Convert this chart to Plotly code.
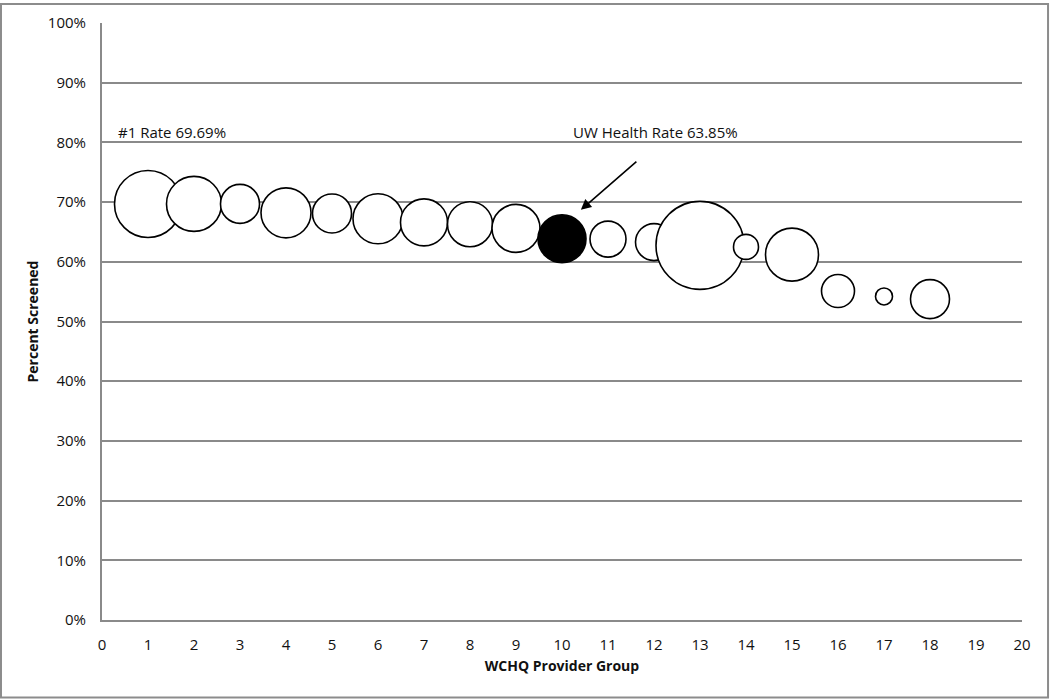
import plotly.graph_objects as go

# Provider groups, screening rate (%) and bubble size (px diameter)
groups = list(range(1, 19))
rates = [69.69, 69.7, 69.7, 68.2, 68.1, 67.2, 66.6, 66.3, 65.6, 63.85,
         63.8, 63.3, 62.75, 62.5, 61.2, 55.1, 54.2, 53.75]
sizes = [67, 55, 39, 50, 39, 50, 47, 45, 48, 48,
         36, 37, 88, 25, 53, 33, 17, 39]
highlight = 10  # UW Health

x_ticks = list(range(0, 21))
y_ticks = list(range(0, 101, 10))
y_labels = [f"{v}%" for v in y_ticks]

FONT = "Open Sans"
GRID = "#8a8a8a"

fills = ["black" if g == highlight else "white" for g in groups]

fig = go.Figure()
fig.add_trace(go.Scatter(
    x=groups,
    y=rates,
    mode="markers",
    marker=dict(
        size=sizes,
        sizemode="diameter",
        color=fills,
        opacity=1,
        line=dict(color="black", width=1.6),
    ),
    showlegend=False,
    hoverinfo="x+y",
))

# annotations
fig.add_annotation(x=0.3, y=81.8, text="#1 Rate 69.69%", showarrow=False,
                   xanchor="left", yanchor="middle",
                   font=dict(family=FONT, size=15, color="#111"))
fig.add_annotation(x=10.2, y=81.8, text="UW Health Rate 63.85%", showarrow=False,
                   xanchor="left", yanchor="middle",
                   font=dict(family=FONT, size=15, color="#111"))
fig.add_annotation(x=10.41, y=68.7, ax=11.65, ay=77.0, xref="x", yref="y",
                   axref="x", ayref="y", text="", showarrow=True,
                   arrowhead=2, arrowsize=1.3, arrowwidth=1.6, arrowcolor="black")

# outer border of the chart
fig.add_shape(type="rect", xref="paper", yref="paper",
              x0=-0.1098, x1=1.0283, y0=-0.13, y1=1.0317,
              line=dict(color="#8c8c8c", width=2), fillcolor="rgba(0,0,0,0)")

fig.update_layout(
    width=1050,
    height=700,
    paper_bgcolor="white",
    plot_bgcolor="white",
    margin=dict(l=102, r=28, t=20, b=80),
    font=dict(family=FONT, size=15, color="#111"),
    xaxis=dict(
        range=[0, 20],
        tickvals=x_ticks,
        showgrid=False,
        zeroline=False,
        showline=True,
        linecolor=GRID,
        linewidth=2,
        ticks="",
        ticklabelstandoff=10,
        tickfont=dict(size=15),
        title=dict(text="<b>WCHQ Provider Group</b>", standoff=8,
                   font=dict(family=FONT, size=14)),
    ),
    yaxis=dict(
        range=[0, 100],
        tickvals=y_ticks,
        ticktext=y_labels,
        showgrid=True,
        gridcolor=GRID,
        gridwidth=1.5,
        zeroline=False,
        showline=True,
        linecolor=GRID,
        linewidth=2,
        ticks="",
        ticklabelstandoff=11,
        tickfont=dict(size=15),
        title=dict(text="<b>Percent Screened</b>", standoff=6,
                   font=dict(family=FONT, size=14)),
    ),
)

fig.write_html("out.html", config={"displayModeBar": False},
               post_script="document.body.style.margin='0px';")
